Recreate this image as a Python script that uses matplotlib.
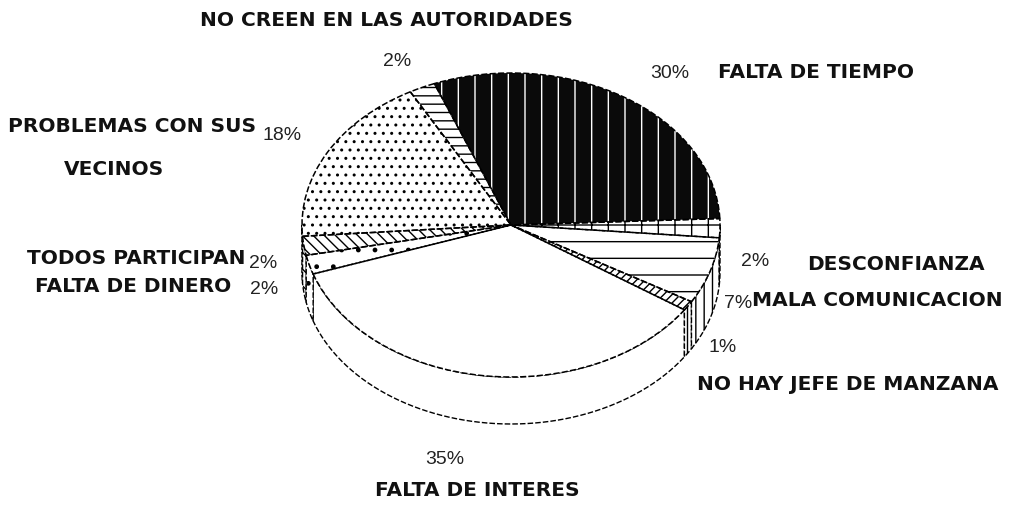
import numpy as np
import matplotlib
matplotlib.use("Agg")
import matplotlib.pyplot as plt
from matplotlib import font_manager

# ---- data ----
labels = ["FALTA DE INTERES", "NO HAY JEFE DE MANZANA", "MALA COMUNICACION",
          "DESCONFIANZA", "FALTA DE TIEMPO", "NO CREEN EN LAS AUTORIDADES",
          "PROBLEMAS CON SUS\nVECINOS", "TODOS PARTICIPAN", "FALTA DE DINERO"]
values = [35, 1, 7, 2, 30, 2, 18, 2, 2]
pct_labels = ["35%", "1%", "7%", "2%", "30%", "2%", "18%", "2%", "2%"]

# ---- style ----
hatches = ["", "////", "-", "+", "|", "--", "..", "\\\\\\", "."]
faces = ["white", "white", "white", "white", "#0a0a0a", "white", "white", "white", "white"]
hatch_cols = ["black", "black", "black", "black", "white", "black", "black", "black", "black"]
wall_hatches = ["", "||", "||", "||", "", "", "", "\\\\", "."]

W, H = 1015, 505
CX, CY, RX, RY = 511, 225, 209, 152   # pixel geometry of top face
DEPTH = 47 / RY
START = 198.8
dash = (0, (4, 1.5))

installed = {f.name for f in font_manager.fontManager.ttflist}
pct_family = "Liberation Sans Narrow" if "Liberation Sans Narrow" in installed else "Liberation Sans"
pct_size = 16 if pct_family == "Liberation Sans Narrow" else 14

fig = plt.figure(figsize=(W / 100, H / 100), dpi=100)
ax = fig.add_axes([0, 0, 1, 1])

wedges, _ = ax.pie(values, startangle=START, radius=1, center=(0, 0),
                   colors=faces, wedgeprops=dict(linewidth=0), frame=False)
for w, h, hc in zip(wedges, hatches, hatch_cols):
    w.set_hatch(h)
    w.set_edgecolor(hc)
    w.set_linewidth(0)
    w.set_zorder(2)

outline, _ = ax.pie(values, startangle=START, radius=1, center=(0, 0),
                    wedgeprops=dict(linewidth=1.1, edgecolor="black",
                                    linestyle=dash, fill=False), frame=False)
for w in outline:
    w.set_zorder(3)

# side walls for the front half
bounds = START + np.concatenate([[0], np.cumsum(values)]) / sum(values) * 360
for i in range(len(values)):
    a0, a1 = bounds[i], bounds[i + 1]
    for lo_f, hi_f in [(180, 360), (540, 720)]:
        lo, hi = max(a0, lo_f), min(a1, hi_f)
        if hi <= lo:
            continue
        t = np.radians(np.linspace(lo, hi, 60))
        xs = np.concatenate([np.cos(t), np.cos(t[::-1])])
        ys = np.concatenate([np.sin(t), np.sin(t[::-1]) - DEPTH])
        ax.fill(xs, ys, facecolor="white", hatch=wall_hatches[i],
                edgecolor="black", linewidth=1.0, linestyle=dash, zorder=1)

ax.set_aspect("auto")
ax.set_xlim(-CX / RX, (W - CX) / RX)
ax.set_ylim((CY - H) / RY, CY / RY)
ax.axis("off")


def px(x, y, s, **kw):
    fig.text(x / W, 1 - y / H, s, **kw)


lab = dict(fontsize=14.5, fontweight="bold", family="DejaVu Sans", va="center", color="#111")
pct = dict(fontsize=pct_size, fontweight="normal", family=pct_family, va="center", color="#222")

px(200, 21, labels[5], ha="left", **lab)
px(383, 62, pct_labels[5], ha="left", **pct)
px(650, 73, pct_labels[4], ha="left", **pct)
px(718, 73, labels[4], ha="left", **lab)
px(8, 127, labels[6].split("\n")[0], ha="left", **lab)
px(64, 169, labels[6].split("\n")[1], ha="left", **lab)
px(262, 136, pct_labels[6], ha="left", **pct)
px(27, 258, labels[7], ha="left", **lab)
px(249, 264, pct_labels[7], ha="left", **pct)
px(35, 287, labels[8], ha="left", **lab)
px(250, 290, pct_labels[8], ha="left", **pct)
px(741, 262, pct_labels[3], ha="left", **pct)
px(807, 264, labels[3], ha="left", **lab)
px(724, 304, pct_labels[2], ha="left", **pct)
px(752, 301, labels[2], ha="left", **lab)
px(709, 347, pct_labels[1], ha="left", **pct)
px(697, 384, labels[1], ha="left", **lab)
px(425, 460, pct_labels[0], ha="left", **pct)
px(375, 490, labels[0], ha="left", **lab)

fig.savefig("out.png", dpi=100, facecolor="white")
